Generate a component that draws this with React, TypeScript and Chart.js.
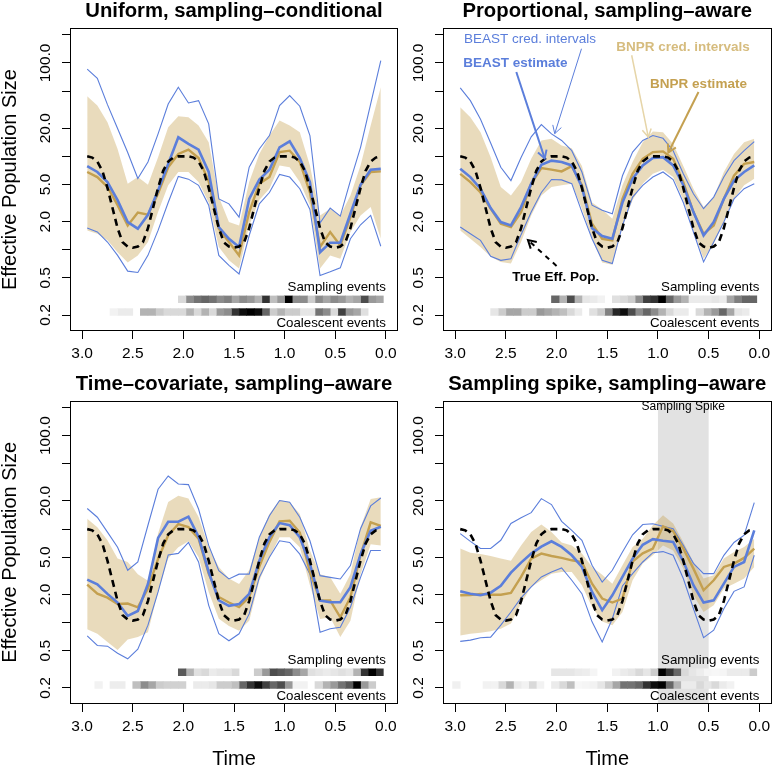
import React, { useEffect, useRef } from 'react';
import { Chart, registerables } from 'chart.js';

Chart.register(...registerables);

const FONT_FAMILY = "'Liberation Sans', Arial, Helvetica, sans-serif";
const BLUE = '#5b7edb';
const GOLD = '#c4a050';
const BAND_FILL = 'rgba(196, 160, 80, 0.38)';
const LIGHT_GOLD_TEXT = '#d6bc7e';
const LIGHT_GOLD_ARROW = '#e6d5a8';
const SPIKE_SHADE = '#e2e2e2';

// ---------- shared axes / grids ----------
const timeGrid = [2.95, 2.85, 2.75, 2.65, 2.55, 2.45, 2.35, 2.25, 2.15, 2.05, 1.95, 1.85, 1.75, 1.65, 1.55, 1.45, 1.35, 1.25, 1.15, 1.05, 0.95, 0.85, 0.75, 0.65, 0.55, 0.45, 0.35, 0.25, 0.15, 0.05];

const trueTimes = [2.95, 2.9, 2.85, 2.8, 2.75, 2.7, 2.65, 2.6, 2.55, 2.5, 2.45, 2.4, 2.35, 2.3, 2.25, 2.2, 2.15, 2.1, 2.05, 2.0, 1.95, 1.9, 1.85, 1.8, 1.75, 1.7, 1.65, 1.6, 1.55, 1.5, 1.45, 1.4, 1.35, 1.3, 1.25, 1.2, 1.15, 1.1, 1.05, 1.0, 0.95, 0.9, 0.85, 0.8, 0.75, 0.7, 0.65, 0.6, 0.55, 0.5, 0.45, 0.4, 0.35, 0.3, 0.25, 0.2, 0.15, 0.1, 0.05];
const trueNe = [10, 9.7, 8.8, 7.0, 4.6, 2.8, 1.7, 1.2, 1.08, 1.05, 1.08, 1.2, 1.7, 2.8, 4.6, 7.0, 8.8, 9.7, 10, 10, 10, 9.7, 8.8, 7.0, 4.6, 2.8, 1.7, 1.2, 1.08, 1.05, 1.08, 1.2, 1.7, 2.8, 4.6, 7.0, 8.8, 9.7, 10, 10, 10, 9.7, 8.8, 7.0, 4.6, 2.8, 1.7, 1.2, 1.08, 1.05, 1.08, 1.2, 1.7, 2.8, 4.6, 7.0, 8.8, 9.7, 10];

const cellCenters = [0.0625, 0.1375, 0.2125, 0.2875, 0.3625, 0.4375, 0.5125, 0.5875, 0.6625, 0.7375, 0.8125, 0.8875, 0.9625, 1.0375, 1.1125, 1.1875, 1.2625, 1.3375, 1.4125, 1.4875, 1.5625, 1.6375, 1.7125, 1.7875, 1.8625, 1.9375, 2.0125, 2.0875, 2.1625, 2.2375, 2.3125, 2.3875, 2.4625, 2.5375, 2.6125, 2.6875, 2.7625, 2.8375, 2.9125, 2.9875];

const yTickValues = [0.2, 0.5, 1, 2, 5, 10, 20, 50, 100, 200];
const yTickLabels = ['0.2', '0.5', '', '2.0', '5.0', '', '20.0', '', '100.0', ''];
const xTickValues = [0, 0.5, 1, 1.5, 2, 2.5, 3];
const xTickLabels = ['0.0', '0.5', '1.0', '1.5', '2.0', '2.5', '3.0'];

const X_MIN = -0.12;
const X_MAX = 3.12;
const Y_MIN = 0.1348;
const Y_MAX = 236.5;

const samplingRow = [0.271, 0.32];
const coalescentRow = [0.198, 0.234];
const stripLabelTime = 0.0;
const samplingLabelLevel = 0.395;
const coalescentLabelLevel = 0.163;

const spikeWindow = [1.0, 0.5];
const spikeLabelAt = [0.75, 204];

// ---------- panel 1: Uniform, sampling-conditional ----------
const uniBeastEst = [7.85, 6.8, 5.3, 3.4, 1.98, 1.68, 2.37, 4.3, 8.3, 16, 13.6, 11.8, 6.8, 1.75, 1.31, 1.07, 3.5, 5.65, 7.2, 12.5, 14.5, 9.6, 5.3, 0.94, 1.19, 1.19, 2.43, 4.96, 7.2, 7.35];
const uniBeastHi = [86, 68.5, 35.8, 19.9, 11, 5.8, 8.7, 17.4, 36.4, 55, 37.3, 39.5, 22.3, 3.5, 3.1, 2.23, 7.65, 12, 16.7, 35, 44.8, 34.4, 16.7, 1.93, 2.79, 2.29, 5.5, 12.5, 36.4, 106];
const uniBeastLo = [1.71, 1.55, 1.21, 0.87, 0.59, 0.57, 0.87, 1.61, 3.2, 6.1, 5.7, 4.9, 3.0, 0.87, 0.68, 0.55, 1.42, 3.1, 4.1, 6.4, 6.0, 4.5, 2.7, 0.53, 0.58, 0.64, 1.31, 1.85, 2.33, 1.09];
const uniBnprEst = [6.8, 6.0, 4.7, 3.0, 1.82, 2.5, 2.37, 4.0, 7.65, 10.6, 11.8, 9.6, 5.4, 1.68, 1.21, 0.87, 2.53, 5.1, 6.0, 11.1, 11.5, 8.7, 4.1, 1.07, 1.55, 1.11, 2.23, 4.9, 6.8, 6.9];
const uniBnprHi = [44, 35, 23.2, 12, 5.1, 6.0, 4.96, 9.8, 20.5, 26.9, 26.2, 21.4, 14.2, 3.66, 1.98, 1.82, 5.3, 10.6, 16.7, 24.2, 21.4, 18.1, 8.0, 2.33, 2.75, 2.33, 3.8, 8.0, 21.4, 55];
const uniBnprLo = [1.61, 1.48, 1.26, 0.94, 0.73, 0.87, 1.21, 2.53, 4.9, 6.8, 6.8, 5.3, 3.2, 1.07, 0.77, 0.63, 1.82, 3.4, 4.5, 8.0, 7.65, 5.3, 3.0, 0.63, 0.87, 0.8, 1.55, 2.33, 2.86, 1.31];
const uniSampling = [0.35, 0.4, 0.7, 0.35, 0.3, 0.4, 0.45, 0.35, 0.45, 0.2, 0.45, 0.45, 1.0, 0.4, 0.25, 0.8, 0.3, 0.4, 0.45, 0.35, 0.5, 0.45, 0.55, 0.6, 0.55, 0.45, 0.15, 0, 0, 0, 0, 0, 0, 0, 0, 0, 0, 0, 0, 0];
const uniCoalescent = [0, 0, 0.12, 0.35, 0.4, 0.75, 0.15, 0.45, 0.55, 0.1, 0.1, 0.2, 0.2, 0.3, 0.2, 0.6, 0.95, 1.0, 0.95, 0.8, 0.45, 0.4, 0.15, 0.3, 0.15, 0.3, 0.15, 0.15, 0.15, 0.2, 0.3, 0.3, 0, 0.08, 0.08, 0.05, 0, 0, 0, 0];

// ---------- panel 2: Proportional, sampling-aware ----------
const propBeastEst = [7.35, 6.0, 4.5, 2.79, 1.98, 1.82, 2.86, 5.1, 8.1, 9.0, 8.7, 8.0, 4.7, 1.7, 1.4, 1.31, 3.2, 5.75, 8.0, 9.6, 9.8, 8.0, 4.9, 2.53, 1.42, 1.98, 3.5, 5.5, 6.8, 8.0];
const propBeastHi = [54, 39.5, 25, 13.9, 7.65, 5.5, 9.7, 16.2, 21.9, 17.4, 14.8, 11.5, 6.8, 3.0, 2.64, 2.43, 6.2, 11.1, 14.8, 16.7, 15.6, 11.5, 6.5, 3.97, 2.75, 3.66, 6.0, 9.0, 11.5, 14.4];
const propBeastLo = [1.75, 1.48, 1.26, 0.85, 0.77, 0.8, 1.45, 2.53, 4.1, 5.65, 5.6, 5.1, 2.53, 1.31, 0.77, 0.71, 1.82, 3.66, 4.9, 6.0, 6.8, 5.65, 3.2, 1.55, 0.74, 1.21, 1.98, 3.5, 4.5, 5.1];
const propBnprEst = [6.5, 5.3, 4.1, 2.75, 1.9, 1.75, 2.53, 5.1, 7.5, 7.2, 6.9, 7.85, 4.9, 1.9, 1.31, 1.26, 3.5, 6.5, 9.4, 11.1, 11.3, 9.4, 5.3, 2.53, 1.48, 1.82, 3.5, 6.2, 8.3, 8.7];
const propBnprHi = [33.6, 26.2, 18.1, 9.8, 4.7, 3.8, 5.3, 9.4, 14.8, 15.4, 13.1, 12.2, 7.9, 3.2, 2.7, 2.15, 4.9, 8.7, 14.2, 18.4, 18.1, 13.6, 7.9, 4.5, 2.86, 3.66, 6.8, 10.6, 14.2, 15.4];
const propBnprLo = [1.61, 1.31, 1.07, 0.84, 0.74, 0.71, 1.21, 2.33, 3.8, 4.7, 4.9, 5.1, 2.75, 1.31, 0.73, 0.69, 1.75, 3.4, 5.1, 6.5, 7.2, 6.0, 3.4, 1.61, 0.8, 1.16, 1.98, 3.5, 4.9, 5.75];
const propSampling = [0.6, 0.6, 0.5, 0.35, 0.08, 0.1, 0.08, 0.08, 0.08, 0.3, 0.4, 0.6, 1.0, 0.8, 0.75, 0.45, 0.2, 0.15, 0.12, 0, 0.05, 0.08, 0.1, 0.3, 0.7, 0.3, 0.6, 0, 0, 0, 0, 0, 0, 0, 0, 0, 0, 0, 0, 0];
const propCoalescent = [0, 0.08, 0.1, 0.35, 0.6, 0.4, 0.3, 0.15, 0, 0.08, 0.08, 0.15, 0.3, 0.45, 0.6, 0.45, 0.7, 0.95, 0.85, 0.5, 0.2, 0.12, 0, 0.08, 0.15, 0.25, 0.3, 0.35, 0.4, 0.2, 0.2, 0.35, 0.35, 0.2, 0.1, 0, 0, 0, 0, 0];

// ---------- panel 3: Time-covariate, sampling-aware ----------
const covBeastEst = [2.88, 2.57, 2.03, 1.64, 1.18, 1.33, 2.59, 8.05, 12, 12, 13.6, 8.3, 3.48, 1.73, 1.51, 1.58, 2.03, 4.6, 8.2, 11.6, 11, 8.2, 4.24, 1.72, 1.65, 1.65, 2.39, 5.4, 9.6, 10.6];
const covBeastHi = [16.6, 13.4, 9.3, 6.4, 3.63, 4.45, 11, 26.7, 37, 30.4, 29.9, 16.4, 6.7, 3.6, 2.93, 3.3, 3.3, 8.2, 13.9, 20.2, 19.4, 13.4, 7.5, 3.18, 3.05, 2.93, 4.07, 10.1, 17.7, 21.5];
const covBeastLo = [0.72, 0.57, 0.56, 0.47, 0.41, 0.52, 0.94, 2.13, 5.3, 5.5, 7.2, 4.45, 1.53, 0.76, 0.64, 0.76, 1.24, 3.05, 5.0, 7.5, 7.2, 5.4, 3.3, 0.79, 0.86, 0.89, 1.46, 3.05, 5.9, 5.9];
const covBnprEst = [2.55, 2.04, 1.85, 1.58, 1.6, 1.46, 2.31, 4.8, 8.6, 11.3, 10.5, 7.9, 3.34, 1.88, 1.64, 1.47, 1.87, 3.97, 7.3, 12.1, 12.3, 9.2, 3.48, 1.73, 1.73, 1.14, 1.87, 5.25, 11.8, 10.8];
const covBnprHi = [12.9, 10.5, 7.6, 4.84, 4.45, 3.3, 2.8, 9.0, 19.5, 22.8, 21.2, 13.5, 6.45, 3.94, 2.96, 2.59, 3.63, 8.2, 14.5, 20.5, 19.4, 14.5, 5.9, 3.3, 3.05, 2.04, 3.3, 10.5, 21, 21.9];
const covBnprLo = [0.85, 0.76, 0.62, 0.51, 0.66, 0.7, 0.79, 2.13, 4.84, 6.4, 7.4, 5.0, 2.13, 1.1, 0.92, 0.82, 1.05, 2.81, 5.0, 8.2, 8.2, 6.4, 2.51, 1.09, 1.14, 0.7, 1.05, 3.3, 6.9, 6.7];
const covSampling = [0.8, 1.0, 0.8, 0.3, 0.1, 0.12, 0.1, 0.08, 0.1, 0.12, 0.35, 0.45, 0.6, 0.65, 0.7, 0.4, 0.2, 0, 0, 0.15, 0.1, 0.1, 0.08, 0.15, 0.12, 0.3, 0.65, 0, 0, 0, 0, 0, 0, 0, 0, 0, 0, 0, 0, 0];
const covCoalescent = [0, 0.2, 0.4, 1.0, 0.65, 0.55, 0.4, 0.3, 0.15, 0, 0.05, 0.05, 0.4, 0.7, 0.6, 0.75, 0.95, 0.8, 0.6, 0.25, 0.2, 0.2, 0.1, 0.08, 0.08, 0, 0.18, 0.18, 0.18, 0.2, 0.35, 0.45, 0.25, 0, 0.07, 0.07, 0, 0.05, 0, 0];

// ---------- panel 4: Sampling spike, sampling-aware ----------
const spikeBeastEst = [2.16, 2.04, 1.96, 2.09, 2.47, 3.42, 4.38, 5.47, 6.5, 7.4, 6.45, 5.25, 3.94, 2.13, 1.36, 1.96, 3.08, 4.84, 6.8, 7.8, 7.5, 7.3, 4.53, 2.51, 1.64, 1.73, 2.61, 3.94, 4.45, 9.7];
const spikeBeastHi = [8.95, 7.4, 6.2, 6.2, 7.6, 11.5, 13.2, 15, 21.2, 18.3, 12.1, 9.7, 7.6, 4.1, 2.72, 3.63, 5.7, 8.7, 11.2, 11.4, 10.7, 10.1, 6.7, 4.3, 3.34, 3.34, 5.25, 7.2, 8.6, 19.2];
const spikeBeastLo = [0.63, 0.65, 0.69, 0.7, 0.94, 1.3, 1.84, 2.41, 3.08, 3.48, 3.84, 2.84, 2.04, 1.02, 0.62, 1.1, 2.47, 3.34, 4.45, 5.6, 5.75, 5.25, 2.96, 1.41, 0.69, 0.83, 1.41, 2.16, 2.41, 5.25];
const spikeBnprEst = [1.96, 1.97, 2.03, 1.99, 1.99, 2.08, 3.08, 4.84, 5.47, 5.16, 4.92, 4.64, 4.45, 2.61, 1.81, 1.64, 1.81, 4.5, 5.5, 6.2, 10.7, 9.5, 6.2, 3.78, 2.22, 2.84, 3.94, 4.28, 4.92, 6.2];
const spikeBnprHi = [6.2, 5.6, 5.43, 5.16, 4.84, 4.6, 6.7, 9.3, 11.2, 9.3, 7.2, 6.7, 5.47, 3.94, 3.26, 2.61, 4.1, 6.45, 7.9, 11, 14.1, 11.5, 7.3, 4.45, 2.96, 3.21, 4.84, 5.7, 6.45, 7.9];
const spikeBnprLo = [0.73, 0.76, 0.78, 0.81, 0.86, 0.98, 1.6, 2.41, 2.84, 3.34, 3.48, 3.48, 2.51, 1.47, 1.03, 0.94, 1.3, 2.84, 4.28, 5.25, 6.7, 5.9, 3.78, 1.96, 1.3, 1.53, 2.31, 2.61, 2.96, 3.94];
const spikeSampling = [0.2, 0.08, 0.08, 0.08, 0.04, 0.03, 0.04, 0.07, 0.1, 0.15, 0.6, 0.8, 1.0, 0.2, 0.1, 0.15, 0.1, 0.08, 0.05, 0, 0, 0.04, 0.07, 0.08, 0.1, 0.1, 0.1, 0, 0, 0, 0, 0, 0, 0, 0, 0, 0, 0, 0, 0];
const spikeCoalescent = [0, 0, 0, 0.05, 0.08, 0.15, 0.1, 0.15, 0.08, 0.08, 0.3, 0.6, 1.0, 0.95, 0.8, 0.6, 0.55, 0.55, 0.35, 0.2, 0.1, 0.05, 0.04, 0.03, 0.25, 0.15, 0.08, 0, 0.05, 0.15, 0.05, 0.08, 0.3, 0.15, 0.05, 0.05, 0, 0, 0, 0.06];

// ---------- legend annotations (panel 2) ----------
const legendTexts = ['BEAST cred. intervals', 'BEAST estimate', 'BNPR cred. intervals', 'BNPR estimate', 'True Eff. Pop.'];
const legendAnchors = [[2.262, 178], [2.406, 100], [0.752, 148], [0.6, 59], [2.008, 0.51]];
const legendArrowFrom = [[1.754, 142], [2.397, 80], [1.259, 121], [0.6, 48.9], [2.0, 0.67]];
const legendArrowTo = [[2.018, 17.5], [2.117, 9.5], [1.095, 16.1], [0.897, 11], [2.282, 1.27]];
const legendTextColors = [BLUE, BLUE, LIGHT_GOLD_TEXT, GOLD, '#000'];
const legendArrowColors = [BLUE, BLUE, LIGHT_GOLD_ARROW, GOLD, '#000'];
const legendBold = [false, true, true, true, true];
const legendArrowWidths = [1, 2, 1.5, 2, 2];
const legendArrowDashed = [false, false, false, false, true];

type Frame = { left: number; top: number; width: number; height: number; yWidth: number; xHeight: number; padRight: number; titleTop: number; titleBottom: number };
type Panel = {
  title: string;
  beastEst: number[]; beastHi: number[]; beastLo: number[];
  bnprEst: number[]; bnprHi: number[]; bnprLo: number[];
  sampling: number[]; coalescent: number[];
  showYTitle: boolean; showXTitle: boolean; legend: boolean; spike: boolean;
  frame: Frame;
};

const panels: Panel[] = [
  {
    title: 'Uniform, sampling\u2013conditional',
    beastEst: uniBeastEst, beastHi: uniBeastHi, beastLo: uniBeastLo,
    bnprEst: uniBnprEst, bnprHi: uniBnprHi, bnprLo: uniBnprLo,
    sampling: uniSampling, coalescent: uniCoalescent,
    showYTitle: true, showXTitle: false, legend: false, spike: false,
    frame: { left: 0, top: 0, width: 400, height: 372, yWidth: 70, xHeight: 41, padRight: 2, titleTop: -0.5, titleBottom: 4.2 },
  },
  {
    title: 'Proportional, sampling\u2013aware',
    beastEst: propBeastEst, beastHi: propBeastHi, beastLo: propBeastLo,
    bnprEst: propBnprEst, bnprHi: propBnprHi, bnprLo: propBnprLo,
    sampling: propSampling, coalescent: propCoalescent,
    showYTitle: false, showXTitle: false, legend: true, spike: false,
    frame: { left: 400, top: 0, width: 375, height: 372, yWidth: 43, xHeight: 41, padRight: 3.5, titleTop: -0.5, titleBottom: 4.2 },
  },
  {
    title: 'Time\u2013covariate, sampling\u2013aware',
    beastEst: covBeastEst, beastHi: covBeastHi, beastLo: covBeastLo,
    bnprEst: covBnprEst, bnprHi: covBnprHi, bnprLo: covBnprLo,
    sampling: covSampling, coalescent: covCoalescent,
    showYTitle: true, showXTitle: true, legend: false, spike: false,
    frame: { left: 0, top: 372, width: 400, height: 398, yWidth: 70, xHeight: 66, padRight: 2, titleTop: 0, titleBottom: 4.3 },
  },
  {
    title: 'Sampling spike, sampling\u2013aware',
    beastEst: spikeBeastEst, beastHi: spikeBeastHi, beastLo: spikeBeastLo,
    bnprEst: spikeBnprEst, bnprHi: spikeBnprHi, bnprLo: spikeBnprLo,
    sampling: spikeSampling, coalescent: spikeCoalescent,
    showYTitle: false, showXTitle: true, legend: false, spike: true,
    frame: { left: 400, top: 372, width: 375, height: 398, yWidth: 43, xHeight: 66, padRight: 3.5, titleTop: 0, titleBottom: 4.3 },
  },
];

function greyFor(d: number) {
  if (d <= 0) return 'rgba(255,255,255,0)';
  const g = Math.round(255 * (1 - d));
  return `rgb(${g},${g},${g})`;
}

function series(values: number[]) {
  return values.map((v, i) => ({ x: timeGrid[i], y: v }));
}

function drawArrow(ctx: CanvasRenderingContext2D, x1: number, y1: number, x2: number, y2: number, head: number) {
  ctx.beginPath();
  ctx.moveTo(x1, y1);
  ctx.lineTo(x2, y2);
  ctx.stroke();
  ctx.setLineDash([]);
  const ang = Math.atan2(y2 - y1, x2 - x1);
  ctx.beginPath();
  ctx.moveTo(x2 - head * Math.cos(ang - Math.PI / 6), y2 - head * Math.sin(ang - Math.PI / 6));
  ctx.lineTo(x2, y2);
  ctx.lineTo(x2 - head * Math.cos(ang + Math.PI / 6), y2 - head * Math.sin(ang + Math.PI / 6));
  ctx.stroke();
}

const boxPlugin = {
  id: 'plotBox',
  afterDatasetsDraw(chart: any) {
    const { ctx, chartArea: a } = chart;
    ctx.save();
    ctx.strokeStyle = '#000';
    ctx.lineWidth = 1;
    const l = Math.round(a.left) + 0.5;
    const t = Math.round(a.top) + 0.5;
    const r = Math.round(a.right) - 0.5;
    const b = Math.round(a.bottom) - 0.5;
    ctx.strokeRect(l, t, r - l, b - t);
    ctx.restore();
  },
};

function shadePlugin(p: Panel) {
  return {
    id: 'spikeShade',
    beforeDatasetsDraw(chart: any) {
      if (!p.spike) return;
      const { ctx, chartArea: a, scales } = chart;
      const x1 = scales.x.getPixelForValue(spikeWindow[0]);
      const x2 = scales.x.getPixelForValue(spikeWindow[1]);
      ctx.save();
      ctx.fillStyle = SPIKE_SHADE;
      ctx.fillRect(Math.min(x1, x2), a.top, Math.abs(x2 - x1), a.bottom - a.top);
      ctx.restore();
    },
  };
}

function notesPlugin(p: Panel) {
  return {
    id: 'panelNotes',
    afterDatasetsDraw(chart: any) {
      const { ctx, scales } = chart;
      const px = (t: number) => scales.x.getPixelForValue(t);
      const py = (v: number) => scales.y.getPixelForValue(v);
      ctx.save();
      ctx.fillStyle = '#000';
      ctx.font = `13.3px ${FONT_FAMILY}`;
      ctx.textAlign = 'right';
      ctx.textBaseline = 'middle';
      ctx.fillText('Sampling events', px(stripLabelTime), py(samplingLabelLevel));
      ctx.fillText('Coalescent events', px(stripLabelTime), py(coalescentLabelLevel));

      if (p.spike) {
        ctx.font = `12px ${FONT_FAMILY}`;
        ctx.textAlign = 'center';
        ctx.fillText('Sampling Spike', px(spikeLabelAt[0]), py(spikeLabelAt[1]));
      }

      if (p.legend) {
        for (let i = 0; i < legendTexts.length; i++) {
          ctx.strokeStyle = legendArrowColors[i];
          ctx.lineWidth = legendArrowWidths[i];
          ctx.setLineDash(legendArrowDashed[i] ? [5, 5] : []);
          drawArrow(ctx, px(legendArrowFrom[i][0]), py(legendArrowFrom[i][1]), px(legendArrowTo[i][0]), py(legendArrowTo[i][1]), 9);
        }
        ctx.setLineDash([]);
        for (let i = 0; i < legendTexts.length; i++) {
          ctx.font = `${legendBold[i] ? 'bold ' : ''}13.5px ${FONT_FAMILY}`;
          ctx.fillStyle = legendTextColors[i];
          ctx.textAlign = 'center';
          ctx.textBaseline = 'middle';
          ctx.fillText(legendTexts[i], px(legendAnchors[i][0]), py(legendAnchors[i][1]));
        }
      }
      ctx.restore();
    },
  };
}

function buildConfig(p: Panel, yTickPadding: number): any {
  const tickFont = { family: FONT_FAMILY, size: 15.5 };
  const f = p.frame;
  const datasets: any[] = [
    { type: 'line', data: trueTimes.map((t, i) => ({ x: t, y: trueNe[i] })), borderColor: '#000', borderWidth: 2.6, borderDash: [7, 5], pointRadius: 0, fill: false, order: 0 },
    { type: 'line', data: series(p.beastEst), borderColor: BLUE, borderWidth: 2.6, pointRadius: 0, fill: false, order: 1 },
    { type: 'line', data: series(p.bnprEst), borderColor: GOLD, borderWidth: 2.4, pointRadius: 0, fill: false, order: 2 },
    { type: 'line', data: series(p.beastHi), borderColor: BLUE, borderWidth: 1.1, pointRadius: 0, fill: false, order: 3 },
    { type: 'line', data: series(p.beastLo), borderColor: BLUE, borderWidth: 1.1, pointRadius: 0, fill: false, order: 3 },
    { type: 'line', data: series(p.bnprHi), borderColor: 'rgba(0,0,0,0)', borderWidth: 1, backgroundColor: BAND_FILL, pointRadius: 0, fill: 6, order: 4 },
    { type: 'line', data: series(p.bnprLo), borderColor: 'rgba(0,0,0,0)', borderWidth: 1, pointRadius: 0, fill: false, order: 4 },
    { type: 'bar', data: cellCenters.map((t) => ({ x: t, y: [samplingRow[0], samplingRow[1]] })), backgroundColor: p.sampling.map(greyFor), borderWidth: 0, grouped: false, barPercentage: 1, categoryPercentage: 1, order: 5 },
    { type: 'bar', data: cellCenters.map((t) => ({ x: t, y: [coalescentRow[0], coalescentRow[1]] })), backgroundColor: p.coalescent.map(greyFor), borderWidth: 0, grouped: false, barPercentage: 1, categoryPercentage: 1, order: 5 },
  ];

  return {
    type: 'line',
    data: { datasets },
    options: {
      responsive: false,
      maintainAspectRatio: false,
      animation: false,
      devicePixelRatio: 1,
      events: [],
      layout: { padding: { left: 0, top: 0, right: f.padRight, bottom: 0 } },
      plugins: {
        legend: { display: false },
        tooltip: { enabled: false },
        title: {
          display: true,
          text: p.title,
          fullSize: false,
          color: '#000',
          font: { family: FONT_FAMILY, size: 20.3, weight: 'bold' },
          padding: { top: f.titleTop, bottom: f.titleBottom },
        },
      },
      scales: {
        x: {
          type: 'linear',
          min: X_MIN,
          max: X_MAX,
          reverse: true,
          bounds: 'data',
          offset: false,
          afterBuildTicks: (s: any) => { s.ticks = xTickValues.map((v) => ({ value: v })); },
          afterFit: (s: any) => { s.height = f.xHeight; },
          ticks: { autoSkip: false, maxRotation: 0, minRotation: 0, padding: 5.4, color: '#000', font: tickFont, callback: (_v: any, i: number) => xTickLabels[i] },
          grid: { display: true, drawOnChartArea: false, drawTicks: true, tickLength: 8, color: '#000', lineWidth: 1, offset: false },
          border: { display: false },
          title: { display: p.showXTitle, text: 'Time', color: '#000', font: { family: FONT_FAMILY, size: 20 }, padding: { top: 0, bottom: -1.5 } },
        },
        y: {
          type: 'logarithmic',
          min: Y_MIN,
          max: Y_MAX,
          bounds: 'data',
          beginAtZero: false,
          afterBuildTicks: (s: any) => { s.ticks = yTickValues.map((v) => ({ value: v })); },
          afterFit: (s: any) => { s.width = f.yWidth; },
          ticks: { autoSkip: false, minRotation: 90, maxRotation: 90, crossAlign: 'center', align: 'end', padding: yTickPadding, color: '#000', font: tickFont, callback: (_v: any, i: number) => yTickLabels[i] },
          grid: { display: true, drawOnChartArea: false, drawTicks: true, tickLength: 8, color: '#000', lineWidth: 1 },
          border: { display: false },
          title: { display: p.showYTitle, text: 'Effective Population Size', color: '#000', font: { family: FONT_FAMILY, size: 20 }, padding: { top: -1.7, bottom: 0 } },
        },
      },
    },
    plugins: [shadePlugin(p), boxPlugin, notesPlugin(p)],
  };
}

function PanelChart({ panel }: { panel: Panel }) {
  const ref = useRef<HTMLCanvasElement>(null);
  useEffect(() => {
    const canvas = ref.current;
    if (!canvas) return;
    const m = document.createElement('canvas').getContext('2d')!;
    m.font = `15.5px ${FONT_FAMILY}`;
    const widest = m.measureText('100.0').width;
    const yTickPadding = 8.7 - widest / 2;
    const chart = new Chart(canvas, buildConfig(panel, yTickPadding));
    return () => chart.destroy();
  }, [panel]);
  const f = panel.frame;
  return (
    <canvas
      ref={ref}
      width={f.width}
      height={f.height}
      style={{ position: 'absolute', left: f.left, top: f.top, width: f.width, height: f.height }}
    />
  );
}

export default function App() {
  return (
    <div style={{ position: 'fixed', left: 0, top: 0, width: 775, height: 770, background: '#fff', overflow: 'hidden' }}>
      {panels.map((p) => (
        <PanelChart key={p.title} panel={p} />
      ))}
    </div>
  );
}
